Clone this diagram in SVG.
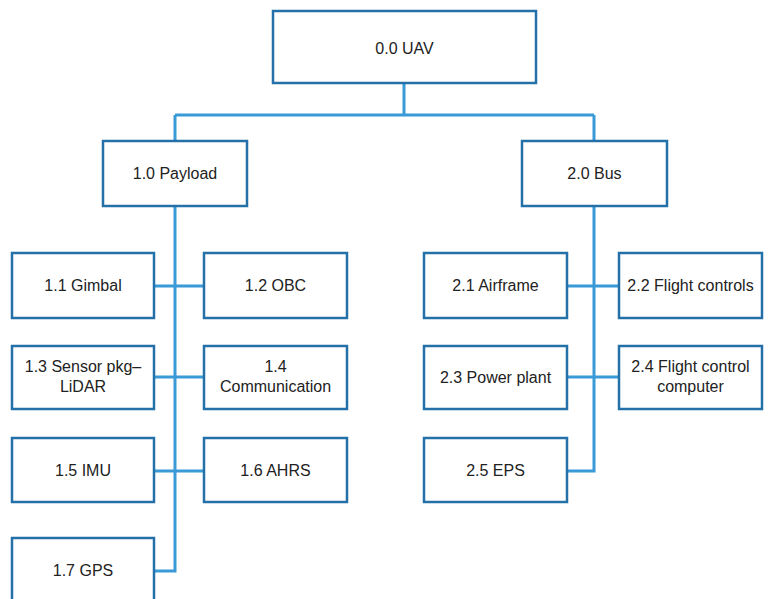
<svg xmlns="http://www.w3.org/2000/svg" width="768" height="599" viewBox="0 0 768 599">
<style>
.box{fill:#ffffff;stroke:#2371a8;stroke-width:2.5}
.lbl{font-family:"Liberation Sans",Arial,sans-serif;font-size:16px;fill:#222222;text-anchor:middle}
.conn{fill:none;stroke:#3a9ad8;stroke-width:3}
</style>
<rect width="768" height="599" fill="#ffffff"/>
<g id="connectors">
<path class="conn" d="M404 83V115M175 115H594M175 115V141M594 115V141"/>
<path class="conn" d="M175 206V571H154M154 286H204M154 377H204M154 471H204"/>
<path class="conn" d="M594 206V471H567M567 286H619M567 377H619"/>
</g>
<g id="n0"><rect class="box" x="273" y="11" width="263" height="72"/><text class="lbl" x="404.5" y="54">0.0 UAV</text></g>
<g id="n1"><rect class="box" x="103" y="141" width="144" height="65"/><text class="lbl" x="175" y="179">1.0 Payload</text></g>
<g id="n2"><rect class="box" x="522" y="141" width="145" height="65"/><text class="lbl" x="594.5" y="179">2.0 Bus</text></g>
<g id="n11"><rect class="box" x="12" y="253" width="142" height="65"/><text class="lbl" x="83" y="291">1.1 Gimbal</text></g>
<g id="n12"><rect class="box" x="204" y="253" width="143" height="65"/><text class="lbl" x="275.5" y="291">1.2 OBC</text></g>
<g id="n13"><rect class="box" x="12" y="346" width="142" height="63"/><text class="lbl" x="83" y="372">1.3 Sensor pkg–</text><text class="lbl" x="83" y="392">LiDAR</text></g>
<g id="n14"><rect class="box" x="204" y="346" width="143" height="63"/><text class="lbl" x="275.5" y="372">1.4</text><text class="lbl" x="275.5" y="392">Communication</text></g>
<g id="n15"><rect class="box" x="12" y="438" width="142" height="64"/><text class="lbl" x="83" y="476">1.5 IMU</text></g>
<g id="n16"><rect class="box" x="204" y="438" width="143" height="64"/><text class="lbl" x="275.5" y="476">1.6 AHRS</text></g>
<g id="n17"><rect class="box" x="12" y="538" width="142" height="66"/><text class="lbl" x="83" y="576">1.7 GPS</text></g>
<g id="n21"><rect class="box" x="424" y="253" width="143" height="65"/><text class="lbl" x="495.5" y="291">2.1 Airframe</text></g>
<g id="n22"><rect class="box" x="619" y="253" width="143" height="65"/><text class="lbl" x="690.5" y="291">2.2 Flight controls</text></g>
<g id="n23"><rect class="box" x="424" y="346" width="143" height="63"/><text class="lbl" x="495.5" y="383">2.3 Power plant</text></g>
<g id="n24"><rect class="box" x="619" y="346" width="143" height="63"/><text class="lbl" x="690.5" y="372">2.4 Flight control</text><text class="lbl" x="690.5" y="392">computer</text></g>
<g id="n25"><rect class="box" x="424" y="438" width="143" height="64"/><text class="lbl" x="495.5" y="476">2.5 EPS</text></g>
</svg>
